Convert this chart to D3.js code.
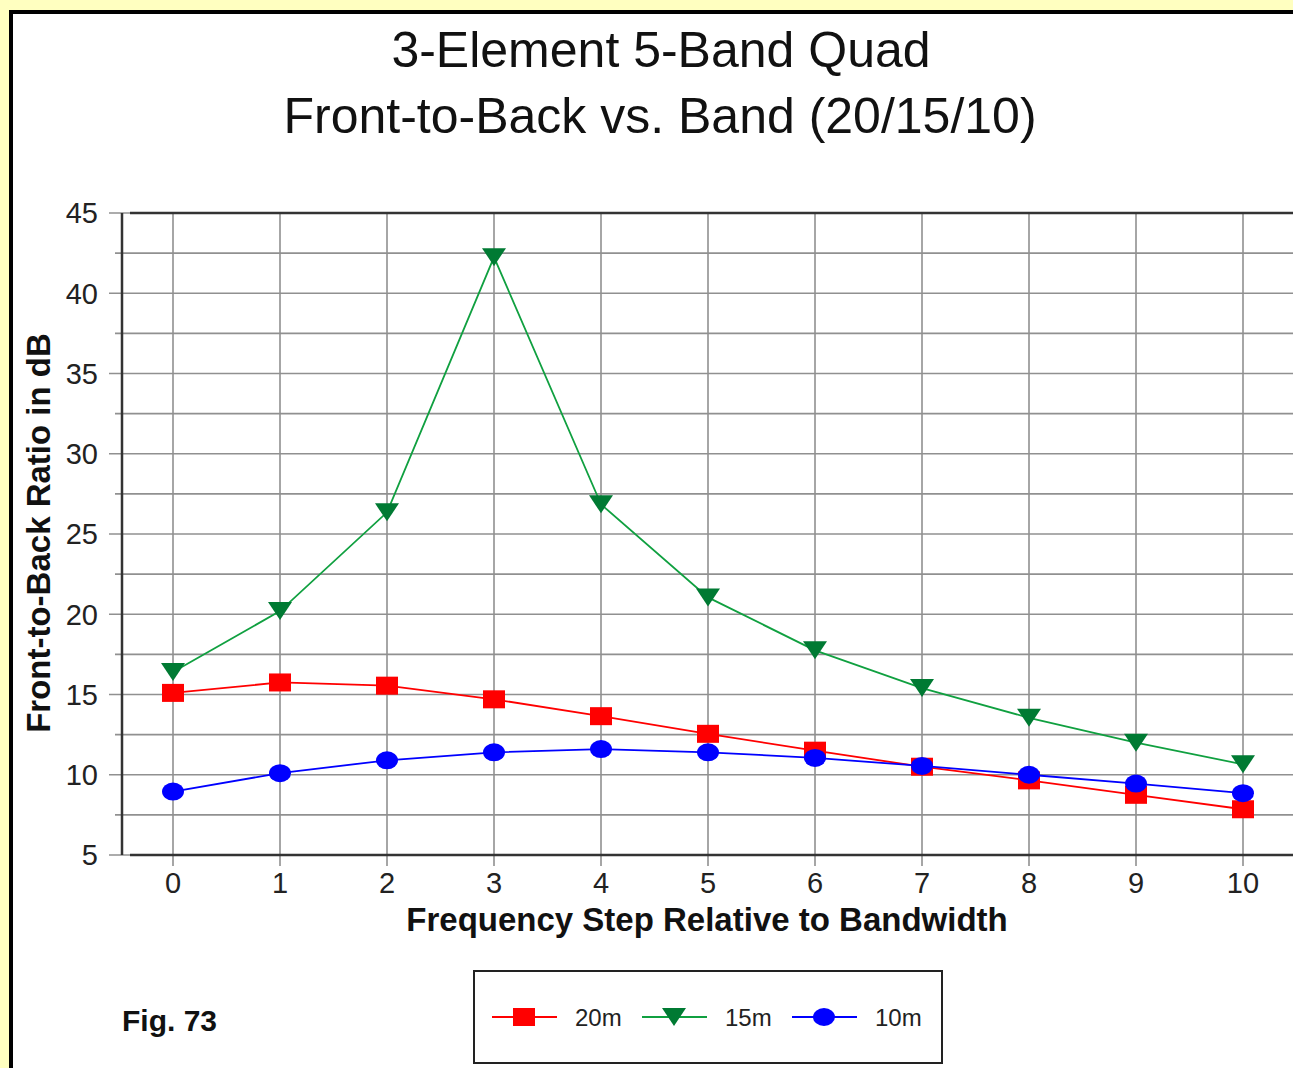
<!DOCTYPE html>
<html lang="en">
<head>
<meta charset="UTF-8">
<title>3-Element 5-Band Quad F/B</title>
<script src="https://cdn.jsdelivr.net/npm/d3@7/dist/d3.min.js"></script>
<style>
  html, body { margin: 0; padding: 0; background: #ffffc0; }
  svg { display: block; }
</style>
</head>
<body>
<script>
// data
var steps = [0, 1, 2, 3, 4, 5, 6, 7, 8, 9, 10];
var fb20m = [15.1, 15.75, 15.55, 14.7, 13.65, 12.55, 11.5, 10.5, 9.65, 8.75, 7.85];
var fb15m = [16.4, 20.2, 26.35, 42.25, 26.85, 21.05, 17.75, 15.4, 13.55, 12.0, 10.65];
var fb10m = [8.95, 10.1, 10.9, 11.4, 11.6, 11.4, 11.05, 10.55, 10.0, 9.45, 8.85];
var yTicks = [5, 10, 15, 20, 25, 30, 35, 40, 45];
var yGrid = [5, 7.5, 10, 12.5, 15, 17.5, 20, 22.5, 25, 27.5, 30, 32.5, 35, 37.5, 40, 42.5, 45];
var seriesNames = ["20m", "15m", "10m"];

var W = 1293, H = 1068;
// note: "top" is reserved on window, so use plot* names
var plotLeft = 122, plotTop = 213, plotBottom = 855, plotRight = 1300;

var svg = d3.select("body").append("svg")
    .attr("width", W)
    .attr("height", H)
    .style("font-family", "'Liberation Sans', Arial, sans-serif");

// white panel with heavy black frame
svg.append("rect")
    .attr("x", 11).attr("y", 12)
    .attr("width", 1400).attr("height", 1200)
    .attr("fill", "#fff")
    .attr("stroke", "#000")
    .attr("stroke-width", 4);

var x = d3.scaleLinear().domain([0, 10]).range([173, 1243]);
var y = d3.scaleLinear().domain([5, 45]).range([plotBottom, plotTop]);

// gridlines
var grid = svg.append("g").attr("stroke", "#909090").attr("stroke-width", 1.6);
grid.selectAll("line.h")
    .data(yGrid)
    .enter().append("line")
    .attr("x1", function(d) { return d % 5 === 0 ? plotLeft - 13 : plotLeft - 7; })
    .attr("x2", plotRight)
    .attr("y1", function(d) { return y(d); })
    .attr("y2", function(d) { return y(d); });
grid.selectAll("line.v")
    .data(steps)
    .enter().append("line")
    .attr("x1", function(d) { return x(d); })
    .attr("x2", function(d) { return x(d); })
    .attr("y1", plotTop)
    .attr("y2", plotBottom + 11);

// axis frame lines
svg.append("line").attr("x1", plotLeft).attr("x2", plotLeft).attr("y1", plotTop).attr("y2", plotBottom)
    .attr("stroke", "#333").attr("stroke-width", 2.5);
svg.append("line").attr("x1", plotLeft + 8).attr("x2", plotRight).attr("y1", plotTop).attr("y2", plotTop)
    .attr("stroke", "#333").attr("stroke-width", 2.5);
svg.append("line").attr("x1", plotLeft + 8).attr("x2", plotRight).attr("y1", plotBottom).attr("y2", plotBottom)
    .attr("stroke", "#333").attr("stroke-width", 2.5);

// tick labels
svg.append("g").selectAll("text")
    .data(yTicks)
    .enter().append("text")
    .attr("x", 98)
    .attr("y", function(d) { return y(d); })
    .attr("dy", "0.36em")
    .attr("text-anchor", "end")
    .attr("font-size", 29)
    .attr("fill", "#222")
    .text(function(d) { return d; });

svg.append("g").selectAll("text")
    .data(steps)
    .enter().append("text")
    .attr("x", function(d) { return x(d); })
    .attr("y", 893)
    .attr("text-anchor", "middle")
    .attr("font-size", 29)
    .attr("fill", "#222")
    .text(function(d) { return d; });

// titles
svg.append("text")
    .attr("x", 661).attr("y", 67)
    .attr("text-anchor", "middle")
    .attr("font-size", 50)
    .attr("fill", "#111")
    .text("3-Element 5-Band Quad");
svg.append("text")
    .attr("x", 660).attr("y", 133)
    .attr("text-anchor", "middle")
    .attr("font-size", 50)
    .attr("fill", "#111")
    .text("Front-to-Back vs. Band (20/15/10)");

svg.append("text")
    .attr("x", 707).attr("y", 931)
    .attr("text-anchor", "middle")
    .attr("font-size", 33)
    .attr("font-weight", "bold")
    .attr("fill", "#111")
    .text("Frequency Step Relative to Bandwidth");

svg.append("text")
    .attr("transform", "translate(50,533) rotate(-90)")
    .attr("text-anchor", "middle")
    .attr("font-size", 33)
    .attr("font-weight", "bold")
    .attr("fill", "#111")
    .text("Front-to-Back Ratio in dB");

svg.append("text")
    .attr("x", 122).attr("y", 1031)
    .attr("font-size", 30)
    .attr("font-weight", "bold")
    .attr("fill", "#111")
    .text("Fig. 73");

// marker drawers
function drawSquare(g, cx, cy, color) {
    g.append("rect").attr("x", cx - 11).attr("y", cy - 9)
        .attr("width", 22).attr("height", 18).attr("fill", color);
}
function drawTriangle(g, cx, cy, color) {
    g.append("path")
        .attr("d", "M" + (cx - 12) + "," + (cy - 9) + "L" + (cx + 12) + "," + (cy - 9) + "L" + cx + "," + (cy + 9) + "Z")
        .attr("fill", color);
}
function drawDot(g, cx, cy, color) {
    g.append("ellipse").attr("cx", cx).attr("cy", cy)
        .attr("rx", 11).attr("ry", 9).attr("fill", color);
}

var series = [
    { name: seriesNames[0], values: fb20m, line: "#ff0000", fill: "#ff0000", marker: drawSquare },
    { name: seriesNames[1], values: fb15m, line: "#10a040", fill: "#007a33", marker: drawTriangle },
    { name: seriesNames[2], values: fb10m, line: "#0000ff", fill: "#0000ff", marker: drawDot }
];

var line = d3.line()
    .x(function(d, i) { return x(steps[i]); })
    .y(function(d) { return y(d); });

series.forEach(function(s) {
    var g = svg.append("g");
    g.append("path")
        .attr("d", line(s.values))
        .attr("fill", "none")
        .attr("stroke", s.line)
        .attr("stroke-width", 1.8);
    s.values.forEach(function(v, i) {
        s.marker(g, x(steps[i]), y(v), s.fill);
    });
});

// legend
var lg = svg.append("g");
lg.append("rect")
    .attr("x", 474).attr("y", 971)
    .attr("width", 468).attr("height", 92)
    .attr("fill", "#fff")
    .attr("stroke", "#222")
    .attr("stroke-width", 2);

series.forEach(function(s, i) {
    var lx = 492 + i * 150, ly = 1017;
    lg.append("line")
        .attr("x1", lx).attr("x2", lx + 65)
        .attr("y1", ly).attr("y2", ly)
        .attr("stroke", s.line).attr("stroke-width", 1.8);
    s.marker(lg, lx + 32, ly, s.fill);
    lg.append("text")
        .attr("x", lx + 83).attr("y", ly + 9)
        .attr("font-size", 24)
        .attr("fill", "#222")
        .text(s.name);
});
</script>
</body>
</html>
